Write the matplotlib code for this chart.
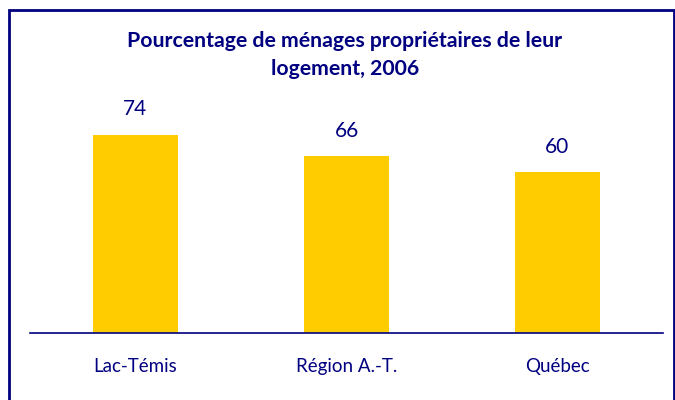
import matplotlib
matplotlib.use('Agg')
import matplotlib.pyplot as plt
from matplotlib.patches import Rectangle

# donnees
regions = ['Lac-Témis', 'Région A.-T.', 'Québec']
pourcentages = [74, 66, 60]
titre = "Pourcentage de ménages propriétaires de leur\nlogement, 2006"

navy = '#000080'
jaune = '#FFCC00'

plt.rcParams['font.family'] = ['Lato', 'DejaVu Sans']

fig = plt.figure(figsize=(6.75, 4), dpi=100)

# cadre autour du graphique
cadre = Rectangle((9/675, -0.05), 665/675, 1.025, transform=fig.transFigure,
                  fill=False, edgecolor=navy, linewidth=2)
fig.patches.append(cadre)

ax = fig.add_axes([30/675, 67/400, 633/675, 0.536])

x = range(len(regions))
ax.bar(x, pourcentages, width=0.4, color=jaune)

for xi, v in zip(x, pourcentages):
    ax.annotate(str(v), (xi, v), xytext=(0, 11), textcoords='offset points',
                ha='center', va='bottom', fontsize=15, color=navy)

ax.set_xlim(-0.5, 2.5)
ax.set_ylim(0, 80)
ax.set_yticks([])
ax.set_xticks(list(x))
ax.set_xticklabels(regions, fontsize=13.5, color=navy)
ax.tick_params(axis='x', length=0, pad=18)

for s in ['top', 'right', 'left']:
    ax.spines[s].set_visible(False)
ax.spines['bottom'].set_color(navy)
ax.spines['bottom'].set_linewidth(1.2)

fig.text(345/675, 1 - 55/400, titre, ha='center', va='center', fontsize=15.3,
         fontweight='bold', color=navy, linespacing=1.55)

fig.savefig('out.png', dpi=100)
